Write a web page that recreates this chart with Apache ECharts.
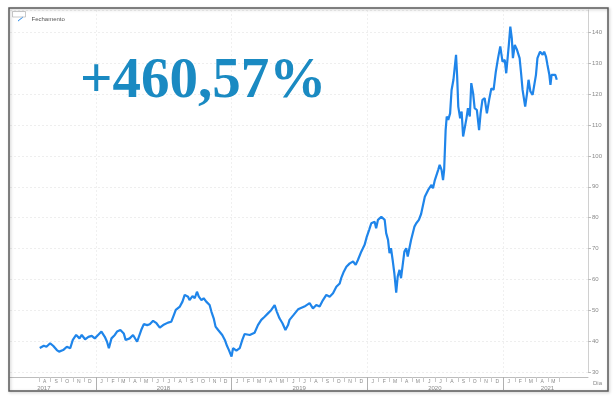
<!DOCTYPE html>
<html><head><meta charset="utf-8">
<script src="https://cdn.jsdelivr.net/npm/echarts@6/dist/echarts.min.js"></script>
<style>html,body{margin:0;padding:0;background:#fff}#c{width:615px;height:399px}</style>
</head><body><div id="c"></div><script>
const seriesName = 'Fechamento';
const headline = '+460,57%';
const dates = ['2017-08-03','2017-08-07','2017-08-14','2017-08-21','2017-08-31','2017-09-08','2017-09-18','2017-09-24','2017-10-05','2017-10-15','2017-10-24','2017-10-31','2017-11-09','2017-11-18','2017-11-24','2017-12-03','2017-12-12','2017-12-21','2017-12-29',
'2018-01-07','2018-01-16','2018-01-25','2018-01-31','2018-02-05','2018-02-12','2018-02-21','2018-02-27','2018-03-08','2018-03-17','2018-03-22','2018-04-02','2018-04-11','2018-04-15','2018-04-22','2018-04-27','2018-05-03','2018-05-10','2018-05-19','2018-05-26','2018-06-04','2018-06-13','2018-06-22','2018-07-01','2018-07-14','2018-07-23','2018-07-30','2018-08-04','2018-08-15','2018-08-22','2018-08-28','2018-09-06','2018-09-10','2018-09-18','2018-09-24','2018-09-30','2018-10-05','2018-10-12','2018-10-18','2018-10-25','2018-10-30','2018-11-03','2018-11-08','2018-11-14','2018-11-19','2018-11-26','2018-11-30','2018-12-07','2018-12-14','2018-12-20','2018-12-25',
'2019-01-01','2019-01-05','2019-01-14','2019-01-23','2019-01-30','2019-02-05','2019-02-19','2019-03-04','2019-03-13','2019-03-22','2019-03-31','2019-04-09','2019-04-18','2019-04-27','2019-05-03','2019-05-10','2019-05-18','2019-05-26','2019-06-02','2019-06-06','2019-06-17','2019-06-29','2019-07-16','2019-07-30','2019-08-08','2019-08-17','2019-08-26','2019-09-04','2019-09-13','2019-09-22','2019-10-01','2019-10-10','2019-10-19','2019-10-23','2019-10-30','2019-11-06','2019-11-15','2019-11-24','2019-12-01','2019-12-07','2019-12-16','2019-12-25','2019-12-31',
'2020-01-06','2020-01-12','2020-01-21','2020-01-25','2020-01-30','2020-02-08','2020-02-12','2020-02-17','2020-02-21','2020-02-26','2020-03-01','2020-03-05','2020-03-10','2020-03-14','2020-03-19','2020-03-23','2020-03-28','2020-04-01','2020-04-10','2020-04-15','2020-04-19','2020-04-28','2020-05-07','2020-05-12','2020-05-19','2020-05-25','2020-06-04','2020-06-13','2020-06-22','2020-06-26','2020-07-01','2020-07-10','2020-07-14','2020-07-19','2020-07-23','2020-07-26','2020-07-30','2020-08-02','2020-08-06','2020-08-11','2020-08-15','2020-08-20','2020-08-24','2020-08-27','2020-08-30','2020-09-02','2020-09-07','2020-09-11','2020-09-15','2020-09-20','2020-09-24','2020-09-28','2020-10-03','2020-10-07','2020-10-12','2020-10-16','2020-10-22','2020-10-28','2020-11-01','2020-11-06','2020-11-12','2020-11-18','2020-11-24','2020-11-30','2020-12-06','2020-12-12','2020-12-18','2020-12-24','2020-12-30',
'2021-01-05','2021-01-09','2021-01-16','2021-01-20','2021-01-24','2021-01-27','2021-02-01','2021-02-07','2021-02-14','2021-02-18','2021-02-22','2021-02-27','2021-03-01','2021-03-06','2021-03-10','2021-03-15','2021-03-21','2021-03-25','2021-03-30','2021-04-03','2021-04-10','2021-04-17','2021-04-21','2021-04-26','2021-04-30','2021-05-05','2021-05-08','2021-05-11','2021-05-16','2021-05-21','2021-05-25'];
const closes = [37.8,38.2,38.5,38.2,39.3,38.5,37.1,36.6,37.1,38.2,37.7,40.4,42.0,40.9,42.0,40.6,41.4,41.7,40.9,
42.0,43.1,41.4,39.8,37.7,40.9,42.0,43.1,43.6,42.5,40.4,40.9,42.0,42.5,39.8,39.3,43.6,45.5,45.2,45.5,46.6,45.8,44.4,45.2,46.0,46.3,48.5,50.1,51.2,52.8,55.0,54.4,53.3,54.6,53.9,56.0,54.4,53.3,53.9,52.8,53.3,51.7,49.5,47.4,44.7,43.6,44.2,42.0,40.4,38.4,37.1,
35.0,37.7,36.9,37.7,40.4,42.3,42.0,42.7,45.2,46.9,47.9,49.0,50.1,51.7,49.5,47.4,45.8,43.6,45.2,46.9,48.5,50.3,51.2,52.3,50.6,51.7,51.2,53.3,55.0,54.4,55.5,57.6,58.7,60.4,62.5,64.1,65.2,65.8,64.7,66.3,69.0,71.2,73.9,
76.0,78.2,78.7,76.6,79.3,80.3,80.6,79.3,75.0,72.8,68.5,70.1,65.8,62.0,55.7,60.9,63.1,60.4,69.0,70.1,67.4,72.8,77.1,78.2,79.3,81.2,86.8,89.0,90.6,89.5,92.2,95.5,97.1,95.5,92.2,95.5,108.4,112.8,111.7,113.8,121.4,124.7,124.7,132.8,125.7,116.0,112.2,114.4,106.3,109.5,112.2,115.5,112.8,123.6,120.3,115.5,114.9,108.4,113.8,118.2,118.7,113.8,118.2,121.9,121.4,127.3,131.7,135.5,130.6,
131.1,126.8,136.0,141.9,138.1,131.7,136.0,134.4,131.7,126.8,121.4,120.9,116.0,120.3,124.7,120.9,119.8,120.3,126.3,131.7,133.8,132.8,133.8,132.2,129.5,126.3,123.0,126.3,125.7,126.3,124.7];
const monthLetters = ['J','F','M','A','M','J','J','A','S','O','N','D'];
const yearLabels = ['2017','2018','2019','2020','2021'];
const yearLabelDates = ['2017-08-14','2018-07-02','2019-07-02','2020-07-01','2021-04-30'];
const yearStarts = ['2018-01-01','2019-01-01','2020-01-01','2021-01-01'];
const axisStart = '2017-05-15', axisEnd = '2021-08-17';
const firstLabelMonth = [2017, 7], lastLabelMonth = [2021, 4];
const yMin = 30, yMax = 147.3, yStep = 10;
const axisEndLabel = 'Dia';

const ts = s => { const p = s.split('-').map(Number); return new Date(p[0], p[1]-1, p[2]).getTime(); };
const monthMids = [], monthStarts = [];
for (let y = firstLabelMonth[0], m = firstLabelMonth[1]; y < lastLabelMonth[0] || (y === lastLabelMonth[0] && m <= lastLabelMonth[1]); ) {
  monthMids.push(new Date(y, m, 16).getTime());
  monthStarts.push(new Date(y, m, 1).getTime());
  m++; if (m > 11) { m = 0; y++; }
}
monthStarts.push(new Date(lastLabelMonth[0], lastLabelMonth[1] + 1, 1).getTime());
const yearLabelTs = yearLabelDates.map(ts);
const yearStartTs = yearStarts.map(ts);

const chart = echarts.init(document.getElementById('c'), null, {renderer: 'canvas'});
const gray = '#8a8a8a';
chart.setOption({
  animation: false,
  backgroundColor: '#fff',
  grid: {left: 10, right: 27, top: 10, bottom: 27},
  legend: {
    left: 13, top: 11, data: [seriesName], itemWidth: 12, itemHeight: 5, itemGap: 4,
    icon: 'path://M0,10 L0,8 L10,0 L10,2 Z',
    textStyle: {fontSize: 6, color: '#555', fontFamily: 'Liberation Sans'}
  },
  xAxis: [{
    type: 'value', min: ts(axisStart), max: ts(axisEnd), position: 'bottom', offset: 5,
    axisLine: {show: true, lineStyle: {color: '#bdbdbd', width: 1}},
    axisTick: {show: true, customValues: monthStarts, length: 5, lineStyle: {color: '#c8c8c8'}},
    axisLabel: {show: true, customValues: monthMids, margin: 2, fontSize: 5, color: gray, fontFamily: 'Liberation Sans',
      formatter: v => monthLetters[new Date(v).getMonth()]},
    splitLine: {show: false}
  }, {
    type: 'value', min: ts(axisStart), max: ts(axisEnd), position: 'bottom', offset: 5,
    axisLine: {show: false},
    axisTick: {show: true, customValues: yearStartTs, length: 13, lineStyle: {color: '#b0b0b0'}},
    axisLabel: {show: true, customValues: yearLabelTs, margin: 8, fontSize: 6, color: gray, fontFamily: 'Liberation Sans',
      formatter: v => yearLabels[yearLabelTs.indexOf(v)] || ''},
    splitLine: {show: true, lineStyle: {color: '#f0f0f0', type: [2, 2], width: 1}}
  }],
  yAxis: {
    type: 'value', position: 'right', min: yMin, max: yMax, interval: yStep,
    axisLine: {show: true, lineStyle: {color: '#d0d0d0'}},
    axisTick: {show: true, length: 3, lineStyle: {color: '#bbb'}},
    axisLabel: {fontSize: 6, color: gray, margin: 4, showMaxLabel: false, fontFamily: 'Liberation Sans'},
    splitLine: {show: true, lineStyle: {color: '#eeeeee', type: [2, 2], width: 1}}
  },
  series: [{
    name: seriesName, type: 'line', xAxisIndex: 0, showSymbol: false,
    data: dates.map((d, i) => [ts(d), closes[i]]),
    lineStyle: {color: '#1f85ea', width: 2.2}, itemStyle: {color: '#1f85ea'}
  }],
  graphic: [
    {type: 'rect', shape: {x: 9, y: 8, width: 599, height: 383}, style: {fill: 'none', stroke: '#5a5a5a', lineWidth: 1.5, shadowBlur: 3, shadowColor: 'rgba(0,0,0,0.25)', shadowOffsetX: 1, shadowOffsetY: 1}, z: 100},
    {type: 'rect', shape: {x: 12.5, y: 11.5, width: 13, height: 5.5}, style: {fill: 'none', stroke: '#bbb', lineWidth: 0.8}, z: 50},
    {type: 'text', x: 80, y: 82, style: {text: headline, font: 'bold 57px "Liberation Serif"', fill: '#1a8ac2', verticalAlign: 'middle'}, z: 60},
    {type: 'text', x: 593, y: 383, style: {text: axisEndLabel, fontSize: 6, fill: gray, fontFamily: 'Liberation Sans', verticalAlign: 'middle'}, z: 60}
  ]
});
</script></body></html>
